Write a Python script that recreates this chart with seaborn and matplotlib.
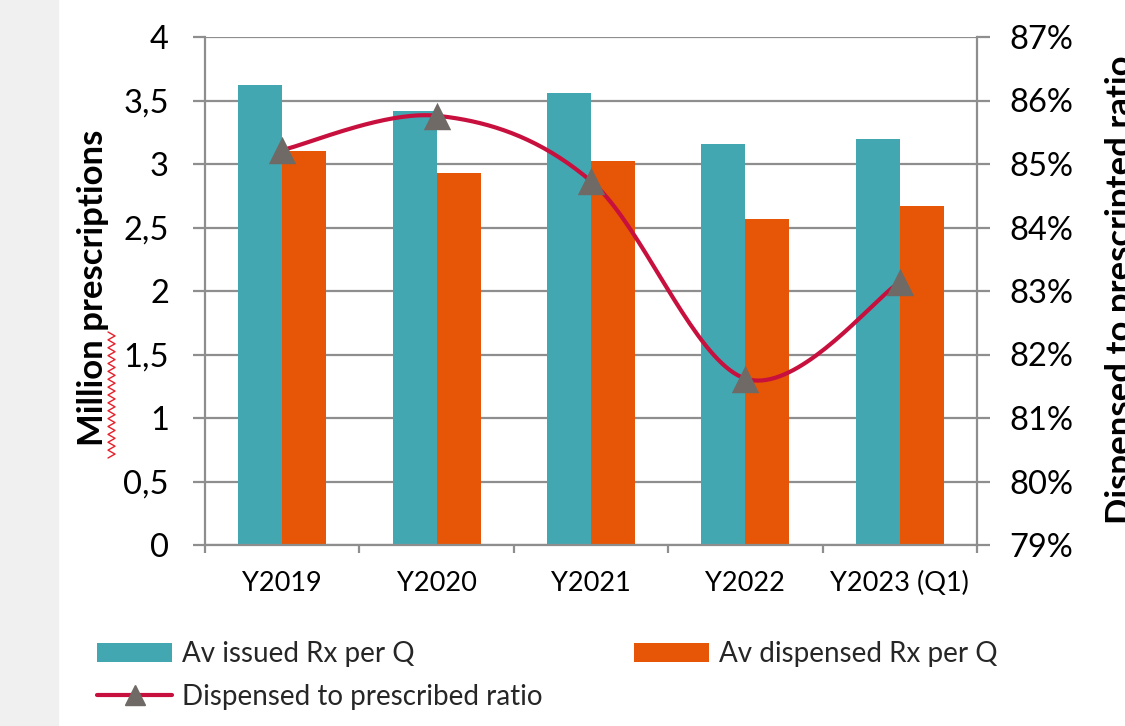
import numpy as np
import pandas as pd
import matplotlib
matplotlib.use("Agg")
import matplotlib.pyplot as plt
import seaborn as sns
from matplotlib.patches import Patch, Rectangle
from matplotlib.lines import Line2D

# ---------------- data ----------------
categories = ["Y2019", "Y2020", "Y2021", "Y2022", "Y2023 (Q1)"]
issued = [3.62, 3.42, 3.56, 3.16, 3.20]
dispensed = [3.10, 2.93, 3.02, 2.57, 2.67]
ratio_pct = [85.22, 85.76, 84.73, 81.62, 83.14]
series_names = ["Av issued Rx per Q", "Av dispensed Rx per Q"]
line_name = "Dispensed to prescribed ratio"
left_ticks = [0, 0.5, 1, 1.5, 2, 2.5, 3, 3.5, 4]
left_tick_labels = ["0", "0,5", "1", "1,5", "2", "2,5", "3", "3,5", "4"]
right_ticks = [79, 80, 81, 82, 83, 84, 85, 86, 87]
right_tick_labels = [f"{v}%" for v in right_ticks]
left_label = "Million prescriptions"
right_label = "Dispensed to prescripted ratio"

# ---------------- style ----------------
TEAL = "#43a7b2"
ORANGE = "#e65606"
CRIMSON = "#c8103e"
MARKER = "#6f6a65"
GRID = "#8e8e8e"

sns.set_theme(style="white")
plt.rcParams["font.family"] = ["Lato", "DejaVu Sans"]

W, H = 1125, 726
fig = plt.figure(figsize=(W / 100, H / 100), dpi=100)
fig.patches.append(Rectangle((0, 0), 58 / W, 1, transform=fig.transFigure,
                             color="#f0f0f0", zorder=0))

ax = fig.add_axes([205 / W, 1 - 545 / H, (977 - 205) / W, (545 - 37) / H])

df = pd.DataFrame({
    "cat": categories * 2,
    "val": issued + dispensed,
    "series": [series_names[0]] * len(categories) + [series_names[1]] * len(categories),
})
sns.barplot(data=df, x="cat", y="val", hue="series", order=categories,
            hue_order=series_names, palette=[TEAL, ORANGE], width=0.57,
            saturation=1, linewidth=0, legend=False, ax=ax, zorder=2)

ax.set_xlim(-0.5, len(categories) - 0.5)
ax.set_ylim(0, 4)
ax.set_yticks(left_ticks, left_tick_labels)
ax.set_xlabel("")
ax.set_ylabel("")
ax.yaxis.grid(True, color=GRID, lw=1.6)
ax.xaxis.grid(False)
ax.set_axisbelow(True)
ax.tick_params(axis="y", left=True, length=9, width=1.6, color=GRID,
               labelsize=23.5, pad=17, labelcolor="black")
ax.set_xticks(range(len(categories)), categories)
ax.set_xticks(np.arange(-0.5, len(categories), 1.0), minor=True)
ax.tick_params(axis="x", which="major", length=0, labelsize=19.5, pad=19,
               labelcolor="black")
ax.tick_params(axis="x", which="minor", bottom=True, length=6, width=1.6,
               color=GRID)
for s in ["top", "right"]:
    ax.spines[s].set_visible(False)
for s in ["left", "bottom"]:
    ax.spines[s].set_color(GRID)
    ax.spines[s].set_linewidth(1.6)

# ---------------- secondary axis + smoothed line ----------------
ax2 = ax.twinx()
ax2.set_ylim(79, 87)
ax2.set_yticks(right_ticks, right_tick_labels)
ax2.tick_params(axis="y", right=True, length=9, width=1.6, color=GRID,
                labelsize=23.5, pad=14, labelcolor="black")
for s in ["top", "left", "bottom"]:
    ax2.spines[s].set_visible(False)
ax2.spines["right"].set_color(GRID)
ax2.spines["right"].set_linewidth(1.6)
ax2.grid(False)

# Excel-style smoothing (uniform Catmull-Rom through the data points)
px = np.arange(len(ratio_pct), dtype=float)
py = np.asarray(ratio_pct, dtype=float)
P = np.column_stack([px, py])
P_ext = np.vstack([P[0], P, P[-1]])
curve = []
t = np.linspace(0, 1, 40)[:, None]
for i in range(len(P) - 1):
    p0, p1, p2, p3 = P_ext[i], P_ext[i + 1], P_ext[i + 2], P_ext[i + 3]
    seg = 0.5 * ((2 * p1) + (-p0 + p2) * t + (2 * p0 - 5 * p1 + 4 * p2 - p3) * t ** 2
                 + (-p0 + 3 * p1 - 3 * p2 + p3) * t ** 3)
    curve.append(seg)
curve = np.vstack(curve)
ax2.plot(curve[:, 0], curve[:, 1], color=CRIMSON, lw=3.0, zorder=3,
         solid_capstyle="round")
sns.scatterplot(x=px, y=py, marker="^", s=390, color=MARKER, edgecolor=MARKER,
                linewidth=0, ax=ax2, zorder=4, legend=False)

# ---------------- axis titles ----------------
fig.text(93 / W, 1 - 288 / H, left_label, rotation=90, ha="center", va="center",
         fontsize=25, fontweight="bold", color="black")
fig.text(1121 / W, 1 - 290 / H, right_label, rotation=90, ha="center", va="center",
         fontsize=25, fontweight="bold", color="black")

# spell-check squiggle under "Million"
yy = np.linspace(1 - 332 / H, 1 - 458 / H, 33)
xx = np.where(np.arange(len(yy)) % 2 == 0, 108 / W, 115 / W)
fig.add_artist(Line2D(xx, yy, transform=fig.transFigure, color="#e8202a", lw=1.0))

# ---------------- legend ----------------
handles = [
    Patch(facecolor=TEAL, edgecolor="none"),
    Line2D([], [], color=CRIMSON, lw=3, marker="^", ms=14,
           markerfacecolor=MARKER, markeredgecolor=MARKER),
    Patch(facecolor=ORANGE, edgecolor="none"),
]
labels = [series_names[0], line_name, series_names[1]]
fig.legend(handles, labels, ncol=2, loc="upper left",
           bbox_to_anchor=(97 / W, 1 - 641 / H), frameon=False, fontsize=20,
           handlelength=2.7, handleheight=0.65, handletextpad=0.35,
           columnspacing=3.3, labelspacing=0.6, borderpad=0, borderaxespad=0)

fig.savefig("out.png", dpi=100)
